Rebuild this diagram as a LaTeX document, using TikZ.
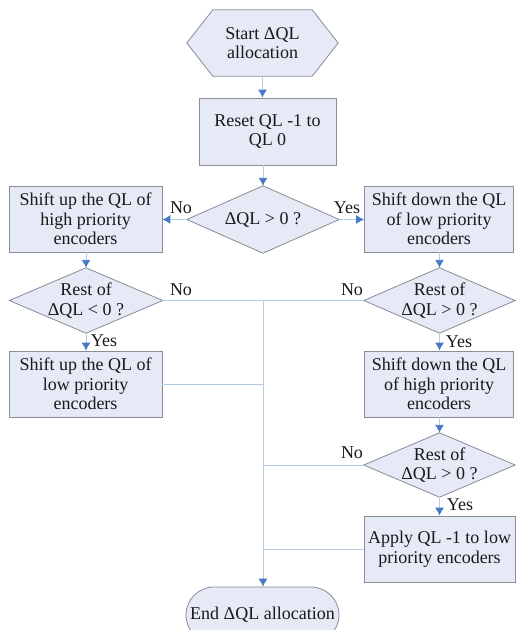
\documentclass[tikz,border=0pt]{standalone}
\usepackage{fontspec}
\setmainfont{Liberation Serif}
\usetikzlibrary{arrows.meta,backgrounds}
\definecolor{boxfill}{RGB}{229,234,246}
\definecolor{boxline}{RGB}{135,140,150}
\definecolor{conline}{RGB}{180,202,230}
\definecolor{tipblue}{RGB}{70,122,196}
\begin{document}
\begin{tikzpicture}[x=1pt,y=-1pt,
  every node/.style={font=\fontsize{18}{19.5}\selectfont, text=black!90},
  procbox/.style={draw=boxline, fill=boxfill, line width=0.8pt, inner sep=0pt, align=center, minimum width=#1, minimum height=66pt},
  procbox/.default=151pt,
  decbox/.style={inner sep=0pt, align=center, minimum width=151pt, minimum height=65pt},
  shapeline/.style={draw=boxline, fill=boxfill, line width=0.8pt},
  conn/.style={draw=conline, line width=0.9pt},
  arr/.style={conn, -{Latex[length=8pt,width=9pt,color=tipblue]}},
  lbl/.style={inner sep=0pt}
]
\useasboundingbox (0,0) rectangle (515,630);

% nodes
\node[inner sep=0pt, align=center, minimum width=99pt, minimum height=66pt] (start) at (262.5,43) {Start ΔQL\\allocation};
\node[procbox=137pt, minimum height=67pt] (reset) at (267.5,131.5) {Reset QL -1 to\\QL 0};
\node[decbox, minimum width=152pt, minimum height=67pt] (d1) at (263,219.5) {ΔQL > 0 ?};
\node[procbox=153pt] (L1) at (85.5,219) {Shift up the QL of\\high priority\\encoders};
\node[procbox=149pt] (R1) at (439,219) {Shift down the QL\\of low priority\\encoders};
\node[decbox, minimum width=153pt] (d2) at (86,300.5) {Rest of\\ΔQL < 0 ?};
\node[decbox] (d3) at (439.5,300.5) {Rest of\\ΔQL > 0 ?};
\node[procbox=153pt] (L2) at (85.5,384) {Shift up the QL of\\low priority\\encoders};
\node[procbox=149pt] (R2) at (439,384) {Shift down the QL\\of high priority\\encoders};
\node[decbox, minimum height=64pt] (d4) at (439.5,465) {Rest of\\ΔQL > 0 ?};
\node[procbox=151pt] (R3) at (439.5,549) {Apply QL -1 to low\\priority encoders};
\node[draw=boxline, fill=boxfill, line width=0.8pt, rounded corners=28pt, inner sep=0pt, minimum width=153pt, minimum height=56pt] (end) at (262.5,615) {End ΔQL allocation};
\coordinate (trunk) at (263,301);

% shapes behind
\begin{scope}[on background layer]
  \draw[shapeline] (start.north west) -- (start.north east) -- ([xshift=26pt]start.east) -- (start.south east) -- (start.south west) -- ([xshift=-26pt]start.west) -- cycle;
  \foreach \d in {d1,d2,d3,d4}
    \draw[shapeline] (\d.north) -- (\d.east) -- (\d.south) -- (\d.west) -- cycle;
\end{scope}

% connectors
\draw[arr] (start.south) -- (start.south |- reset.north);
\draw[arr] (d1.north |- reset.south) -- (d1.north);
\draw[arr] (d1.west) -- (d1.west -| L1.east);
\draw[arr] (d1.east) -- (d1.east -| R1.west);
\draw[arr] (d2.north |- L1.south) -- (d2.north);
\draw[arr] (d3.north |- R1.south) -- (d3.north);
\draw[arr] (d2.south) -- (d2.south |- L2.north);
\draw[arr] (d3.south) -- (d3.south |- R2.north);
\draw[arr] (d4.north |- R2.south) -- (d4.north);
\draw[arr] (d4.south) -- (d4.south |- R3.north);
\draw[conn] (d2.east) -- (d2.east -| trunk);
\draw[conn] (d3.west) -- (d3.west -| trunk);
\draw[conn] (L2.east) -- (L2.east -| trunk);
\draw[conn] (d4.west) -- (d4.west -| trunk);
\draw[conn] (R3.west) -- (R3.west -| trunk);
\draw[arr] (trunk) -- (trunk |- end.north);

% labels
\node[lbl] (n1) at (181,208) {No};
\node[lbl] (y1) at (347,208) {Yes};
\node[lbl] (n2) at (181,290) {No};
\node[lbl] (n3) at (352,290) {No};
\node[lbl] (y2) at (104,341) {Yes};
\node[lbl] (y3) at (459,342) {Yes};
\node[lbl] (n4) at (352,453) {No};
\node[lbl] (y4) at (460,505) {Yes};
\end{tikzpicture}
\end{document}
